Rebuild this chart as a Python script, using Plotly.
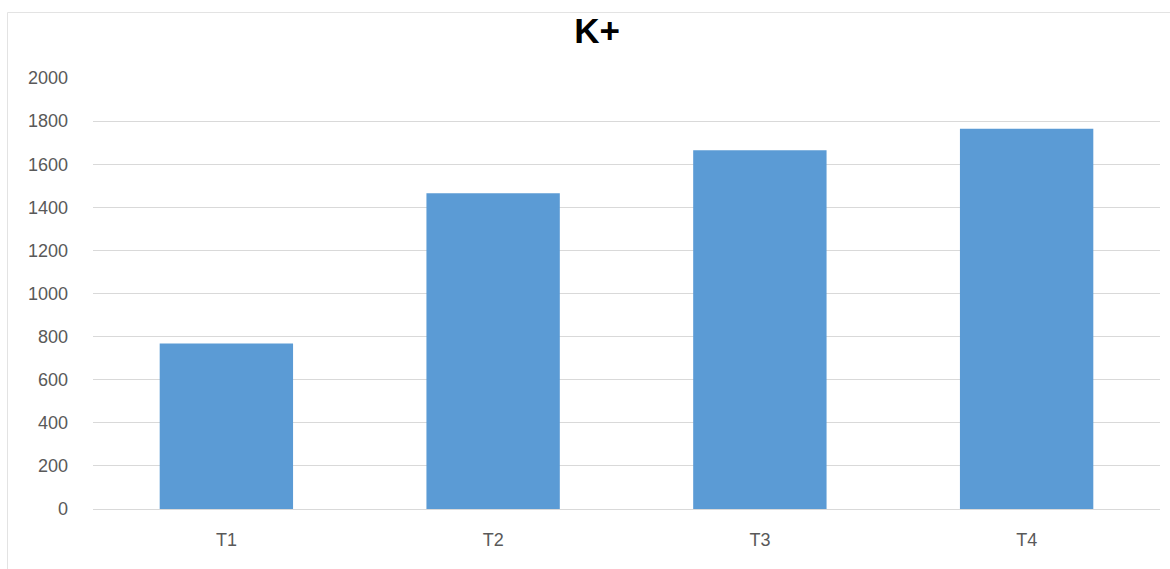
import plotly.graph_objects as go

categories = ["T1", "T2", "T3", "T4"]
values = [768, 1465, 1665, 1765]
y_ticks = [0, 200, 400, 600, 800, 1000, 1200, 1400, 1600, 1800, 2000]
title_text = "K+"

W, H = 1170, 569
L, R, T, B = 93, 10, 78, 60
pw, ph = W - L - R, H - T - B

def px_x(x):
    return (x - L) / pw

def px_y(y):
    return (H - B - y) / ph

frame_style = dict(color="#e3e3e3", width=1)

fig = go.Figure(
    go.Bar(
        x=categories,
        y=values,
        marker=dict(color="#5B9BD5", line=dict(width=0)),
        hoverinfo="x+y",
    )
)

fig.update_layout(
    width=W,
    height=H,
    margin=dict(l=L, r=R, t=T, b=B),
    paper_bgcolor="white",
    plot_bgcolor="white",
    bargap=0.5,
    showlegend=False,
    title=dict(
        text=title_text,
        x=597 / W,
        xref="container",
        xanchor="center",
        y=1 - 31 / H,
        yref="container",
        yanchor="middle",
        font=dict(family="Liberation Sans, Arial", size=35, color="#000000", weight="bold"),
    ),
    font=dict(family="Liberation Sans, Arial", size=18, color="#595959"),
    shapes=[
        dict(type="line", xref="paper", yref="paper",
             x0=px_x(7.5), x1=px_x(7.5), y0=px_y(580), y1=px_y(12.5),
             line=frame_style, layer="below"),
        dict(type="line", xref="paper", yref="paper",
             x0=px_x(7.5), x1=px_x(1180), y0=px_y(12.5), y1=px_y(12.5),
             line=frame_style, layer="below"),
    ],
)

fig.update_yaxes(
    range=[0, 2000],
    tickvals=y_ticks,
    showgrid=True,
    gridcolor="#d9d9d9",
    gridwidth=1,
    zeroline=True,
    zerolinecolor="#d9d9d9",
    zerolinewidth=1,
    showline=False,
    ticks="",
    ticklabelstandoff=24,
    tickfont=dict(size=18, color="#595959"),
)

fig.update_xaxes(
    showgrid=False,
    showline=False,
    ticks="",
    ticklabelstandoff=18,
    tickfont=dict(size=18, color="#595959"),
)

fig.write_html("out.html")
